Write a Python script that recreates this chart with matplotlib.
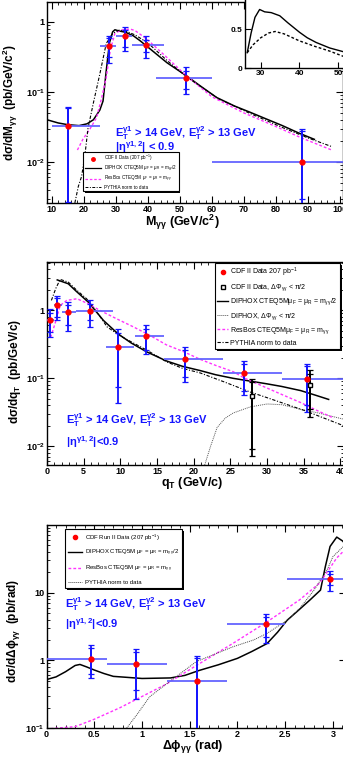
import numpy as np
import matplotlib
matplotlib.use("Agg")
import matplotlib.pyplot as plt
from matplotlib.lines import Line2D
from matplotlib.patches import Rectangle
from matplotlib.transforms import IdentityTransform
from matplotlib.ticker import FixedLocator, MultipleLocator, FuncFormatter, LogLocator, NullFormatter

plt.rcParams['font.family'] = ['Liberation Sans', 'DejaVu Sans']
plt.rcParams['mathtext.default'] = 'regular'
plt.rcParams['axes.linewidth'] = 1.0

# ---------------- data: mass spectrum ----------------
m_pts = [15, 28, 33, 39.5, 52, 88]
m_lo = [10, 25, 30, 35, 42.5, 60]
m_hi = [25, 30, 35, 45, 60, 116]
m_y = [0.033, 0.457, 0.62, 0.47, 0.16, 0.0100]
m_tot_lo = [0.002, 0.26, 0.38, 0.305, 0.093, 0.002]
m_tot_hi = [0.061, 0.63, 0.85, 0.63, 0.225, 0.030]
m_stat_lo = [0.0027, 0.31, 0.43, 0.37, 0.11, 0.003]
m_stat_hi = [0.058, 0.59, 0.77, 0.555, 0.20, 0.028]

dip_m = [8.5, 12, 15, 18.5, 21, 23, 25, 26, 27, 28, 29, 29.7, 31, 33, 35.5, 37.5, 41, 46, 52, 56,
         61.5, 67, 72, 77, 82, 87, 92]
dip_my = [0.040, 0.036, 0.034, 0.033, 0.035, 0.040, 0.055, 0.074, 0.2, 0.5, 0.72, 0.77, 0.74, 0.71,
          0.63, 0.54, 0.40, 0.26, 0.17, 0.125, 0.083, 0.063, 0.051, 0.041, 0.033, 0.026, 0.021]
res_m = [18, 19.7, 22, 24, 25.5, 27, 28.3, 29.7, 31.5, 34.4, 36, 39.6, 45, 52, 60, 70, 80, 88, 97.4]
res_my = [0.0148, 0.021, 0.03, 0.043, 0.08, 0.16, 0.4, 0.68, 0.76, 0.79, 0.75, 0.57, 0.34, 0.17,
          0.085, 0.05, 0.032, 0.022, 0.0148]
pyt_m = [17.2, 18.3, 19.3, 20.3, 21.3, 23, 25, 27, 29, 31, 33, 36, 40, 46, 52, 62, 72, 82, 90, 97.5]
pyt_my = [0.0026, 0.0045, 0.0062, 0.012, 0.03, 0.07, 0.18, 0.49, 0.68, 0.76, 0.74, 0.65, 0.5, 0.28,
          0.165, 0.08, 0.049, 0.031, 0.022, 0.0165]

ins_x1 = [26.5, 27.5, 28.5, 29.7, 31, 32.7, 34.9, 37, 40, 42, 44.3, 47.8, 51.5]
ins_y1 = [0.2, 0.45, 0.65, 0.75, 0.72, 0.71, 0.67, 0.58, 0.46, 0.39, 0.33, 0.26, 0.21]
ins_x2 = [26.5, 28, 30, 32, 33.7, 36, 40, 44, 47.8, 51.5]
ins_y2 = [0.2, 0.3, 0.39, 0.45, 0.47, 0.44, 0.35, 0.28, 0.22, 0.15]

# ---------------- data: qT ----------------
q_pts = [0.4, 1.4, 2.9, 5.8, 9.7, 13.5, 18.8, 26.8, 35.5]
q_lo = [0, 1, 2, 4, 8, 12, 16, 24, 32]
q_hi = [1, 2, 4, 9, 11.8, 16, 24, 32, 44]
q_y = [0.71, 1.21, 0.94, 0.97, 0.29, 0.42, 0.19, 0.12, 0.097]
q_tot_lo = [0.41, 0.72, 0.49, 0.57, 0.043, 0.23, 0.088, 0.056, 0.032]
q_tot_hi = [1.05, 1.65, 1.32, 1.4, 0.53, 0.6, 0.29, 0.18, 0.165]
q_stat_lo = [0.48, 0.8, 0.6, 0.71, 0.074, 0.26, 0.105, 0.065, 0.04]
q_stat_hi = [0.9, 1.5, 1.2, 1.25, 0.47, 0.54, 0.26, 0.165, 0.15]

sq_q = [28.0, 35.9]
sq_y = [0.055, 0.081]
sq_tot_lo = [0.0071, 0.027]
sq_tot_hi = [0.097, 0.131]
sq_stat_lo = [0.009, 0.035]
sq_stat_hi = [0.088, 0.117]

dip_q = [1.4, 2.9, 4, 5.6, 7.7, 9.7, 11.5, 13.6, 16.3, 18.5, 20.9, 23, 25.4, 28, 30, 32, 34.6, 36.5, 38.4]
dip_qy = [2.8, 2.46, 1.9, 1.33, 0.71, 0.45, 0.33, 0.245, 0.18, 0.15, 0.13, 0.113, 0.1, 0.09, 0.083,
          0.076, 0.066, 0.057, 0.049]
dipcut_q = [21.5, 22.3, 23.2, 24.3, 25.4, 27.7, 30, 32, 34.6, 37, 40.5]
dipcut_qy = [0.0053, 0.01, 0.019, 0.026, 0.031, 0.038, 0.042, 0.041, 0.035, 0.031, 0.025]
res_q = [0.5, 1.1, 1.8, 2.7, 4.1, 5.6, 7.2, 9.5, 11.8, 14, 16.3, 18.5, 20.9, 23, 25.4, 27, 30, 32,
         34.6, 37, 39.1]
res_qy = [0.4, 0.64, 1.18, 1.4, 1.48, 1.25, 1.0, 0.75, 0.57, 0.43, 0.31, 0.25, 0.19, 0.155, 0.125,
          0.1, 0.072, 0.058, 0.044, 0.033, 0.026]
pyt_q = [0.6, 1.2, 1.8, 2.9, 4, 5.4, 6.8, 8.2, 10, 11.8, 13.6, 16.3, 18.5, 20.9, 24, 27.7, 30, 35, 40.5]
pyt_qy = [1.4, 2.1, 2.85, 2.6, 2.0, 1.48, 0.95, 0.57, 0.42, 0.33, 0.26, 0.175, 0.14, 0.12, 0.09,
          0.063, 0.052, 0.034, 0.02]

# ---------------- data: delta phi ----------------
p_pts = [0.465, 0.94, 1.575, 2.3, 2.97]
p_lo = [0, 0.63, 1.26, 1.89, 2.52]
p_hi = [0.63, 1.26, 1.89, 2.5, 3.3]
p_y = [1.03, 0.87, 0.49, 3.4, 15.8]
p_tot_lo = [0.54, 0.27, 0.05, 1.8, 10.7]
p_tot_hi = [1.7, 1.45, 1.15, 4.8, 20.5]
p_stat_lo = [0.63, 0.36, 0.05, 2.2, 13]
p_stat_hi = [1.5, 1.35, 1.1, 4.4, 19]

dip_p = [0, 0.1, 0.2, 0.3, 0.35, 0.42, 0.5, 0.6, 0.7, 0.85, 1.0, 1.3, 1.45, 1.6, 1.8, 2.0, 2.15, 2.31,
         2.42, 2.52, 2.64, 2.76, 2.87, 2.92, 2.97, 3.04, 3.1, 3.14]
dip_py = [0.52, 0.57, 0.68, 0.84, 0.87, 0.8, 0.72, 0.64, 0.58, 0.56, 0.54, 0.55, 0.6, 0.71, 0.86,
          1.07, 1.35, 1.77, 2.6, 3.9, 5.5, 7.8, 10.9, 24, 48, 66, 58, 50]
res_p = [0.04, 0.3, 0.5, 0.77, 1.26, 1.57, 1.95, 2.31, 2.65, 2.86, 3.04, 3.14]
res_py = [0.098, 0.105, 0.135, 0.2, 0.45, 0.84, 1.77, 3.7, 7.8, 13.8, 32.5, 45]
pyt_p = [0.84, 0.95, 1.08, 1.3, 1.57, 1.95, 2.17, 2.31, 2.52, 2.65, 2.8, 2.94, 3.0, 3.11]
pyt_py = [0.1, 0.16, 0.29, 0.5, 0.96, 1.58, 2.0, 2.5, 3.9, 5.8, 10.8, 21.7, 34, 48]

BLUE = '#1414ff'
HBLUE = '#6464ff'
MAG = '#ff33ff'
PYT_DASH = (0, (3, 1.5, 1, 1.5))


def root_axes(ax):
    ax.tick_params(which='both', direction='in', top=True, right=True, labelsize=6.5, pad=1.5)
    ax.tick_params(which='major', length=5, width=0.8)
    ax.tick_params(which='minor', length=2.5, width=0.6)
    for lab in ax.get_xticklabels() + ax.get_yticklabels():
        lab.set_fontweight('bold')


def log_fmt(v, pos):
    e = int(round(np.log10(v)))
    if e == 0:
        return '1'
    if e == 1:
        return '10'
    return r'10$^{%d}$' % e


def set_logy(ax):
    ax.set_yscale('log')
    ax.yaxis.set_major_locator(LogLocator(base=10))
    ax.yaxis.set_minor_locator(LogLocator(base=10, subs=np.arange(2, 10)))
    ax.yaxis.set_major_formatter(FuncFormatter(log_fmt))
    ax.yaxis.set_minor_formatter(NullFormatter())


def draw_data(ax, x, xlo, xhi, y, tlo, thi, slo, shi):
    x = np.array(x); y = np.array(y)
    ax.errorbar(x, y, xerr=[x - np.array(xlo), np.array(xhi) - x], fmt='none',
                ecolor=HBLUE, elinewidth=1.3, zorder=3)
    ax.errorbar(x, y, yerr=[y - np.array(tlo), np.array(thi) - y], fmt='none',
                ecolor=BLUE, elinewidth=1.3, capsize=2.5, capthick=0.9, zorder=4)
    ax.errorbar(x, y, yerr=[y - np.array(slo), np.array(shi) - y], fmt='none',
                ecolor=BLUE, elinewidth=1.3, capsize=2.5, capthick=0.9, zorder=4)
    ax.plot(x, y, 'o', color='red', ms=3.5, mec='red', zorder=5)


def cut_text(ax, x, y1, y2, eta_txt):
    ax.text(x, y1, r'E$_{T}^{\gamma1}$ > 14 GeV, E$_{T}^{\gamma2}$ > 13 GeV', transform=ax.transAxes,
            color=BLUE, fontsize=8, fontweight='bold', va='center')
    ax.text(x, y2, eta_txt, transform=ax.transAxes,
            color=BLUE, fontsize=8, fontweight='bold', va='center')


def make_legend(ax, handles, labels, **kw):
    leg = ax.legend(handles, labels, frameon=True, fancybox=False, edgecolor='black',
                    framealpha=1, borderaxespad=0, **kw)
    leg.get_frame().set_linewidth(0.8)
    leg.set_zorder(10)
    return leg


def add_shadow(ax, leg, off=1.8):
    fig.canvas.draw()
    bb = leg.get_frame().get_window_extent()
    ax.add_patch(Rectangle((bb.x0 + off, bb.y0 - off), bb.width, bb.height,
                           transform=IdentityTransform(), facecolor='black', edgecolor='none',
                           zorder=9.9, clip_on=False))


fig = plt.figure(figsize=(3.43, 7.6), dpi=100)

# ================= panel 1 =================
ax1 = fig.add_axes([0.137, 0.733, 0.8636, 0.264])
draw_data(ax1, m_pts, m_lo, m_hi, m_y, m_tot_lo, m_tot_hi, m_stat_lo, m_stat_hi)
ax1.plot(dip_m, dip_my, color='black', lw=1.1)
ax1.plot(res_m, res_my, color=MAG, lw=1.0, ls=(0, (2, 1.5)))
ax1.plot(pyt_m, pyt_my, color='black', lw=0.8, ls=PYT_DASH)
set_logy(ax1)
ax1.set_xlim(8.5, 101)
ax1.set_ylim(2.6e-3, 1.9)
ax1.xaxis.set_major_locator(MultipleLocator(10))
ax1.xaxis.set_minor_locator(MultipleLocator(2))
root_axes(ax1)
ax1.set_xlabel(r'M$_{\gamma\gamma}$ (GeV/c$^{2}$)', fontsize=9, fontweight='bold')
ax1.xaxis.set_label_coords(0.456, -0.05)
ax1.set_ylabel(r'd$\sigma$/dM$_{\gamma\gamma}$  (pb/GeV/c$^{2}$)', fontsize=8.5, fontweight='bold')
ax1.yaxis.set_label_coords(-0.09, 0.5)
cut_text(ax1, 0.23, 0.35, 0.28, r'|$\eta^{\gamma1,2}$| < 0.9')
h1 = [Line2D([], [], marker='o', color='red', ls='none', ms=2.5),
      Line2D([], [], color='black', lw=0.9),
      Line2D([], [], color=MAG, lw=0.9, ls=(0, (2, 1.5))),
      Line2D([], [], color='black', lw=0.7, ls=PYT_DASH)]
l1 = [r'CDF II Data (207 pb$^{-1}$)',
      r'DIPHOX CTEQ5M $\mu_{F}$ = $\mu_{R}$ = m$_{\gamma\gamma}$/2',
      r'ResBos CTEQ5M $\mu_{F}$ = $\mu_{R}$ = m$_{\gamma\gamma}$',
      'PYTHIA norm to data']
leg1 = make_legend(ax1, h1, l1, loc='lower left', bbox_to_anchor=(0.122, 0.06), fontsize=3.3,
                   borderpad=0.3, labelspacing=0.05, handlelength=3.6, handletextpad=0.7)

# inset
axi = fig.add_axes([0.714, 0.910, 0.289, 0.092])
axi.plot(ins_x1, ins_y1, color='black', lw=1.0)
axi.plot(ins_x2, ins_y2, color='black', lw=1.0, ls=(0, (2, 1.5)))
axi.set_xlim(25.9, 51.5)
axi.set_ylim(0, 0.89)
axi.xaxis.set_major_locator(FixedLocator([30, 40, 50]))
axi.yaxis.set_major_locator(FixedLocator([0, 0.5]))
axi.yaxis.set_major_formatter(FuncFormatter(lambda v, p: '0' if v == 0 else '0.5'))
axi.tick_params(direction='in', labelsize=6, length=4, width=0.8, pad=1.5)
for lab in axi.get_xticklabels() + axi.get_yticklabels():
    lab.set_fontweight('bold')
axi.spines['top'].set_color('#888888')

# ================= panel 2 =================
ax2 = fig.add_axes([0.137, 0.388, 0.866, 0.267])
draw_data(ax2, q_pts, q_lo, q_hi, q_y, q_tot_lo, q_tot_hi, q_stat_lo, q_stat_hi)
sq_q_a = np.array(sq_q); sq_y_a = np.array(sq_y)
ax2.errorbar(sq_q_a, sq_y_a, yerr=[sq_y_a - np.array(sq_tot_lo), np.array(sq_tot_hi) - sq_y_a],
             fmt='none', ecolor='black', elinewidth=1.3, capsize=2.5, capthick=0.9, zorder=4)
ax2.errorbar(sq_q_a, sq_y_a, yerr=[sq_y_a - np.array(sq_stat_lo), np.array(sq_stat_hi) - sq_y_a],
             fmt='none', ecolor='black', elinewidth=1.3, capsize=2.5, capthick=0.9, zorder=4)
ax2.plot(sq_q, sq_y, 's', mfc='white', mec='black', mew=1.0, ms=3.5, zorder=6)
ax2.plot(dip_q, dip_qy, color='black', lw=1.1)
ax2.plot(dipcut_q, dipcut_qy, color='#555555', lw=0.7, ls=(0, (1, 1)))
ax2.plot(res_q, res_qy, color=MAG, lw=1.0, ls=(0, (2, 1.5)))
ax2.plot(pyt_q, pyt_qy, color='black', lw=0.8, ls=PYT_DASH)
set_logy(ax2)
ax2.set_xlim(0, 40.5)
ax2.set_ylim(5.3e-3, 5.1)
ax2.xaxis.set_major_locator(MultipleLocator(5))
ax2.xaxis.set_minor_locator(MultipleLocator(1))
root_axes(ax2)
ax2.set_xlabel(r'q$_{T}$ (GeV/c)', fontsize=9, fontweight='bold')
ax2.xaxis.set_label_coords(0.49, -0.05)
ax2.set_ylabel(r'd$\sigma$/dq$_{T}$  (pb/GeV/c)', fontsize=8.5, fontweight='bold')
ax2.yaxis.set_label_coords(-0.082, 0.46)
cut_text(ax2, 0.065, 0.22, 0.115, r'|$\eta^{\gamma1,2}$|<0.9')
h2 = [Line2D([], [], marker='o', color='red', ls='none', ms=3),
      Line2D([], [], marker='s', mfc='white', mec='black', ls='none', ms=3.5),
      Line2D([], [], color='black', lw=1),
      Line2D([], [], color='#555555', lw=0.7, ls=(0, (1, 1))),
      Line2D([], [], color=MAG, lw=1, ls=(0, (2, 1.5))),
      Line2D([], [], color='black', lw=0.8, ls=PYT_DASH)]
l2 = [r'CDF II Data 207 pb$^{-1}$',
      r'CDF II Data, $\Delta\Phi_{\gamma\gamma}$ < $\pi$/2',
      r'DIPHOX CTEQ5M$\mu_{F}$ = $\mu_{R}$ = m$_{\gamma\gamma}$/2',
      r'DIPHOX, $\Delta\Phi_{\gamma\gamma}$ < $\pi$/2',
      r'ResBos CTEQ5M$\mu_{F}$ = $\mu_{R}$ = m$_{\gamma\gamma}$',
      'PYTHIA norm to data']
leg2 = make_legend(ax2, h2, l2, loc='upper left', bbox_to_anchor=(0.565, 0.995), fontsize=5.0,
                   borderpad=0.35, labelspacing=0.5, handlelength=1.6, handletextpad=0.25)

# ================= panel 3 =================
ax3 = fig.add_axes([0.1356, 0.042, 0.874, 0.267])
draw_data(ax3, p_pts, p_lo, p_hi, p_y, p_tot_lo, p_tot_hi, p_stat_lo, p_stat_hi)
ax3.plot(dip_p, dip_py, color='black', lw=1.1)
ax3.plot(res_p, res_py, color=MAG, lw=1.0, ls=(0, (2, 1.5)))
ax3.plot(pyt_p, pyt_py, color='#444444', lw=0.7, ls=(0, (1, 1)))
set_logy(ax3)
ax3.set_xlim(0, 3.14)
ax3.set_ylim(0.1, 99)
ax3.xaxis.set_major_locator(MultipleLocator(0.5))
ax3.xaxis.set_minor_locator(MultipleLocator(0.1))
ax3.xaxis.set_major_formatter(FuncFormatter(lambda v, p: '%g' % v))
root_axes(ax3)
ax3.set_xlabel(r'$\Delta\phi_{\gamma\gamma}$ (rad)', fontsize=9, fontweight='bold')
ax3.xaxis.set_label_coords(0.487, -0.05)
ax3.set_ylabel(r'd$\sigma$/d$\Delta\phi_{\gamma\gamma}$  (pb/rad)', fontsize=8.5, fontweight='bold')
ax3.yaxis.set_label_coords(-0.082, 0.48)
cut_text(ax3, 0.062, 0.61, 0.51, r'|$\eta^{\gamma1,2}$|<0.9')
h3 = [Line2D([], [], marker='o', color='red', ls='none', ms=3),
      Line2D([], [], color='black', lw=1),
      Line2D([], [], color=MAG, lw=1, ls=(0, (2, 1.5))),
      Line2D([], [], color='#444444', lw=0.7, ls=(0, (1, 1)))]
l3 = [r'CDF Run II Data (207 pb$^{-1}$)',
      r'DIPHOX CTEQ5M $\mu_{F}$ = $\mu_{R}$ = m$_{\gamma\gamma}$/2',
      r'ResBos CTEQ5M $\mu_{F}$ = $\mu_{R}$ = m$_{\gamma\gamma}$',
      'PYTHIA norm to data']
leg3 = make_legend(ax3, h3, l3, loc='upper left', bbox_to_anchor=(0.062, 0.98), fontsize=4.3,
                   borderpad=0.5, labelspacing=0.95, handlelength=2.4, handletextpad=0.5)

for a, lg in [(ax1, leg1), (ax2, leg2), (ax3, leg3)]:
    add_shadow(a, lg)

fig.savefig('out.png', dpi=100)
